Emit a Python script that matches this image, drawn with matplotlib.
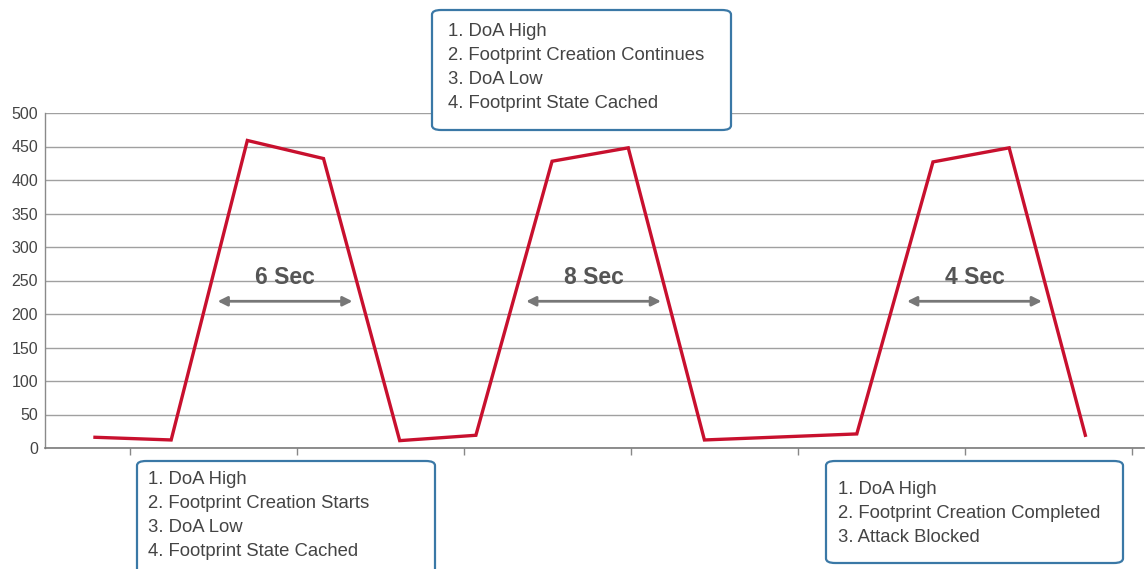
import matplotlib.pyplot as plt
from matplotlib.patches import FancyBboxPatch
import numpy as np

plt.rcParams['font.family'] = ['Liberation Sans', 'DejaVu Sans']

# Sample positions (one slot, index 9, has no point) and values
x_idx = [0, 1, 2, 3, 4, 5, 6, 7, 8, 10, 11, 12, 13]
values = [16, 12, 459, 432, 11, 19, 428, 448, 12, 21, 427, 448, 19]

y_ticks = [0, 50, 100, 150, 200, 250, 300, 350, 400, 450, 500]

# duration markers: label, arrow start, arrow end (x index units)
durations = ["6 Sec", "8 Sec", "4 Sec"]
dur_start = [1.61, 5.66, 10.66]
dur_end = [3.38, 7.43, 12.43]

box_top = ["1. DoA High", "2. Footprint Creation Continues", "3. DoA Low",
           "4. Footprint State Cached"]
box_left = ["1. DoA High", "2. Footprint Creation Starts", "3. DoA Low",
            "4. Footprint State Cached"]
box_right = ["1. DoA High", "2. Footprint Creation Completed", "3. Attack Blocked"]

W, H = 1146, 569
fig = plt.figure(figsize=(W / 100, H / 100), dpi=100)


def fx(px):
    return px / W


def fy(py):
    return 1 - py / H


ax = fig.add_axes([fx(45), fy(448), fx(1144) - fx(45), fy(113) - fy(448)])

ax.plot(x_idx, values, color='#c8102e', lw=2.4, solid_joinstyle='miter', zorder=3)

ax.set_xlim(-0.656, 13.77)
ax.set_ylim(0, 500)
ax.set_yticks(y_ticks)
ax.set_yticklabels([str(v) for v in y_ticks], fontsize=11.5, color='#444444')
ax.tick_params(axis='y', length=0, pad=5)
ax.set_xticks(np.arange(0.459, 13.7, 2.193))
ax.set_xticklabels([])
ax.tick_params(axis='x', length=5, width=1, color='#888888', direction='out')
ax.grid(axis='y', color='#a0a0a0', lw=1)
ax.set_axisbelow(True)
for s in ['top', 'right']:
    ax.spines[s].set_visible(False)
ax.spines['left'].set_color('#8a8a8a')
ax.spines['bottom'].set_color('#7a7a7a')
ax.spines['left'].set_linewidth(1)
ax.spines['bottom'].set_linewidth(1.2)

for lab, a, b in zip(durations, dur_start, dur_end):
    ax.annotate('', xy=(a, 219), xytext=(b, 219),
                arrowprops=dict(arrowstyle='<|-|>', color='#777777', lw=2,
                                mutation_scale=14, shrinkA=0, shrinkB=0), zorder=4)
    ax.text((a + b) / 2, 255, lab, ha='center', va='center', fontsize=16.5,
            fontweight='bold', color='#555555', zorder=4)


def note_box(x0, y0, x1, y1, lines, tx, ty):
    p = FancyBboxPatch((fx(x0), fy(y1)), fx(x1) - fx(x0), fy(y0) - fy(y1),
                       boxstyle='round,pad=0,rounding_size=0.008',
                       transform=fig.transFigure, facecolor='white',
                       edgecolor='#3a78a6', lw=1.6, zorder=10)
    fig.patches.append(p)
    for i, t in enumerate(lines):
        fig.text(fx(tx), fy(ty + 24 * i), t, ha='left', va='center',
                 fontsize=13.3, color='#444444', zorder=11)


note_box(432, 10, 731, 130, box_top, 448, 32)
note_box(137, 461, 435, 585, box_left, 148, 480)
note_box(826, 461, 1123, 563, box_right, 838, 489)

fig.savefig('out.png', dpi=100)
